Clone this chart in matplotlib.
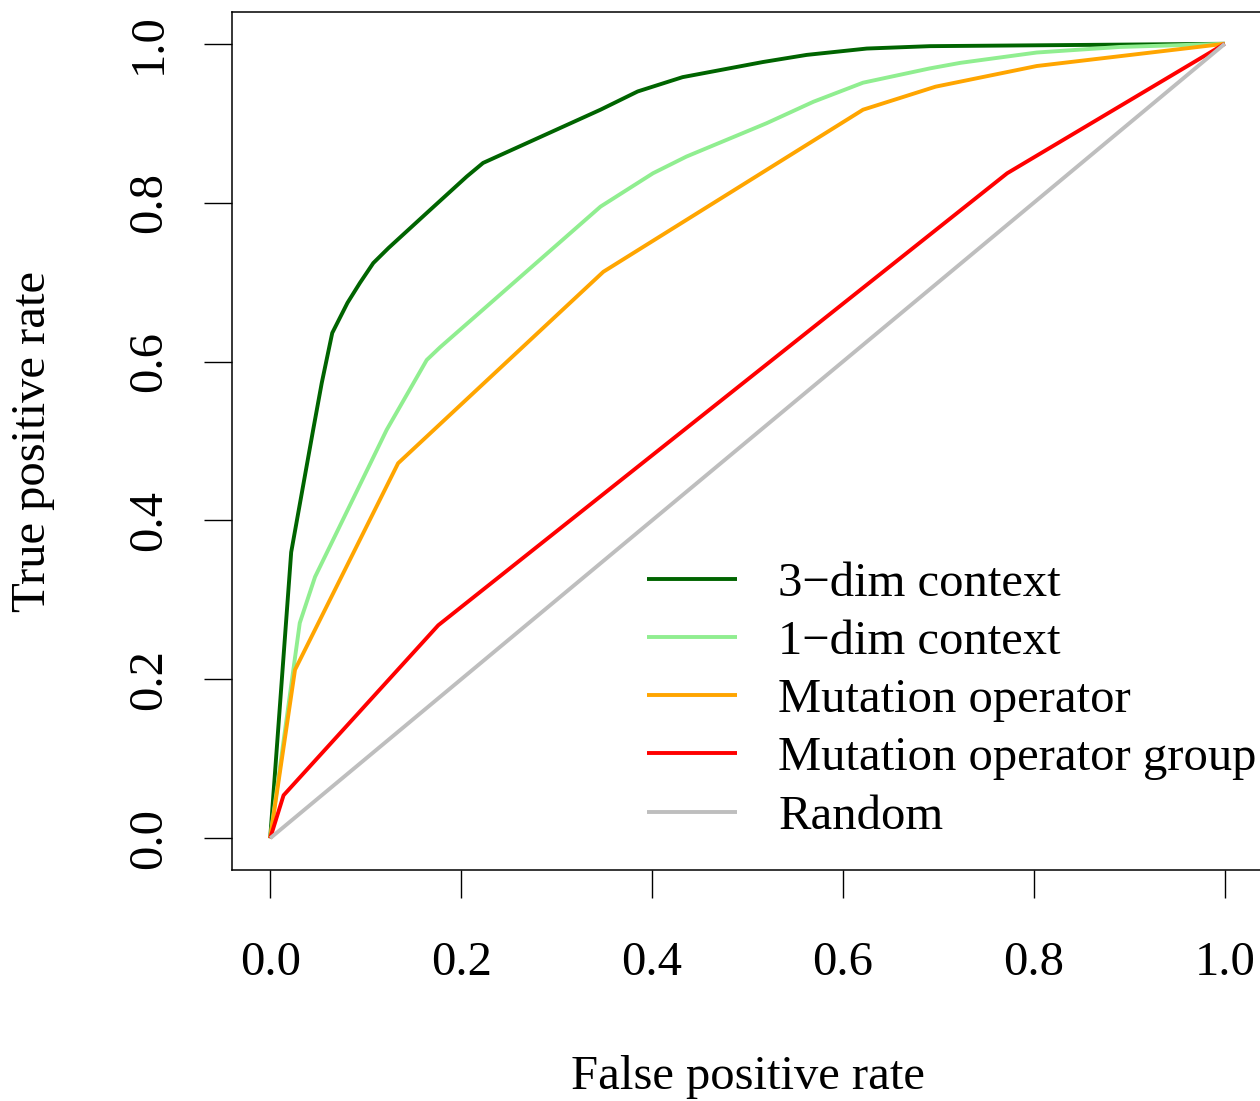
"""
ROC curves for the context / mutation-operator models.
"""

import matplotlib
matplotlib.use("Agg")
import matplotlib.pyplot as plt

# ROC points (FPR, TPR)
fpr_3dim = [0.0, 0.022, 0.045, 0.054, 0.065, 0.081, 0.094, 0.108, 0.124, 0.164,
            0.206, 0.223, 0.346, 0.385, 0.432, 0.516, 0.562, 0.625, 0.691, 1.0]
tpr_3dim = [0.0, 0.360, 0.514, 0.573, 0.636, 0.674, 0.699, 0.724, 0.743, 0.787,
            0.833, 0.850, 0.917, 0.940, 0.958, 0.977, 0.986, 0.994, 0.997, 1.0]

fpr_1dim = [0.0, 0.031, 0.047, 0.105, 0.122, 0.164, 0.178, 0.346, 0.401, 0.436,
            0.520, 0.569, 0.621, 0.691, 0.723, 0.803, 0.890, 1.0]
tpr_1dim = [0.0, 0.271, 0.329, 0.472, 0.514, 0.602, 0.618, 0.795, 0.837, 0.858,
            0.900, 0.927, 0.951, 0.969, 0.976, 0.989, 0.996, 1.0]

fpr_op = [0.0, 0.026, 0.134, 0.349, 0.621, 0.697, 0.803, 1.0]
tpr_op = [0.0, 0.212, 0.472, 0.713, 0.917, 0.946, 0.972, 1.0]

fpr_group = [0.0, 0.014, 0.176, 0.772, 1.0]
tpr_group = [0.0, 0.054, 0.268, 0.837, 1.0]

fpr_random = [0.0, 1.0]
tpr_random = [0.0, 1.0]

labels = ["3\u2212dim context", "1\u2212dim context", "Mutation operator",
          "Mutation operator group", "Random"]
colors = ["#006400", "#90EE90", "#FFA500", "#FF0000", "#BEBEBE"]
ticks = [0.0, 0.2, 0.4, 0.6, 0.8, 1.0]

plt.rcParams["font.family"] = ["Liberation Serif", "DejaVu Serif"]
FS = 35

fig = plt.figure(figsize=(12.6, 11.01), dpi=100)
W, H = 1260, 1101
ax = fig.add_axes([232 / W, 1 - 870 / H, 1031 / W, 858 / H])

curves = [(fpr_3dim, tpr_3dim), (fpr_1dim, tpr_1dim), (fpr_op, tpr_op),
          (fpr_group, tpr_group), (fpr_random, tpr_random)]
for (x, y), lab, col in zip(curves, labels, colors):
    ax.plot(x, y, color=col, lw=2.8, label=lab, solid_capstyle="butt")

ax.set_xlim(-0.04, 1.04)
ax.set_ylim(-0.04, 1.04)
ax.set_xticks(ticks)
ax.set_yticks(ticks)
ax.set_xticklabels([f"{t:.1f}" for t in ticks])
ax.set_yticklabels([f"{t:.1f}" for t in ticks], rotation=90, va="center")
ax.tick_params(axis="x", length=20, width=1.0, labelsize=FS, pad=31)
ax.tick_params(axis="y", length=20, width=1.0, labelsize=FS, pad=24)
for s in ax.spines.values():
    s.set_linewidth(1.1)

fig.text(748 / W, 1 - 1077 / H, "False positive rate", fontsize=FS,
         ha="center", va="center")
fig.text(33 / W, 1 - 441 / H, "True positive rate", fontsize=FS,
         ha="center", va="center", rotation=90)

ax.legend(loc="upper left", bbox_to_anchor=(647 / W, 1 - 562 / H),
          bbox_transform=fig.transFigure, frameon=False, fontsize=FS,
          handlelength=1.85, handletextpad=0.85, labelspacing=0.29,
          borderpad=0, borderaxespad=0)

fig.savefig("out.png", dpi=100)
